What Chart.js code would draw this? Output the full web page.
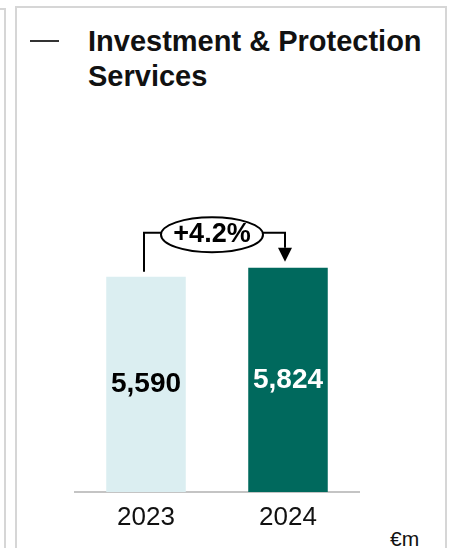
<!DOCTYPE html>
<html>
<head>
<meta charset="utf-8">
<script src="https://cdn.jsdelivr.net/npm/chart.js@4.4.1/dist/chart.umd.min.js"></script>
<style>
  html, body { margin: 0; padding: 0; background: #fff; }
  body { width: 452px; height: 548px; position: relative; overflow: hidden;
         font-family: "Liberation Sans", Arial, sans-serif; }
  .panel { position: absolute; box-sizing: border-box; border: 2px solid #d6d6d6; background: #fff; }
  .panel.prev { left: -20px; top: 8px; width: 26px; height: 600px; }
  .panel.main { left: 15px; top: 6px; width: 432px; height: 600px; }
  .dash { position: absolute; left: 30px; top: 40px; width: 29px; height: 2px; background: #333; }
  .title { position: absolute; left: 88px; top: 24px; font-weight: bold; font-size: 29px;
           line-height: 35px; color: #111; }
  .unit { position: absolute; left: 390px; top: 528px; font-size: 21px; line-height: 22px; color: #111; }
  #chart { position: absolute; left: 0; top: 0; }
</style>
</head>
<body>
<div class="panel prev"></div>
<div class="panel main"></div>
<div class="dash"></div>
<div class="title">Investment &amp; Protection<br>Services</div>
<div class="unit">€m</div>
<canvas id="chart" width="452" height="548"></canvas>

<script>
const years       = ['2023', '2024'];
const revenue     = [5590, 5824];
const barColors   = ['#dbeef1', '#00695d'];
const labelColors = ['#000', '#fff'];

const FONT = '"Liberation Sans", Arial, sans-serif';

// value labels inside the bars + growth bubble with arrow
const barNotes = {
  id: 'barNotes',
  afterDatasetsDraw(chart) {
    const ctx  = chart.ctx;
    const bars = chart.getDatasetMeta(0).data;
    const base = chart.scales.y.getPixelForValue(0);

    ctx.save();
    ctx.textAlign = 'center';
    ctx.textBaseline = 'middle';
    ctx.font = `bold 28px ${FONT}`;
    bars.forEach((bar, i) => {
      ctx.fillStyle = labelColors[i];
      ctx.fillText(revenue[i].toLocaleString('en-US'), bar.x, (bar.y + base) / 2);
    });

    const [b0, b1] = bars;
    const lineY = b1.y - 35;
    const cx = (b0.x + b1.x) / 2 - 5;
    const cy = lineY + 2;
    const rx = 51, ry = 17.5;
    const ax = b1.x - 3;

    ctx.strokeStyle = '#000';
    ctx.fillStyle = '#000';
    ctx.lineWidth = 2;
    ctx.beginPath();
    ctx.moveTo(b0.x - 2, b0.y - 5);
    ctx.lineTo(b0.x - 2, lineY);
    ctx.lineTo(cx - rx, lineY);
    ctx.moveTo(cx + rx, lineY);
    ctx.lineTo(ax, lineY);
    ctx.lineTo(ax, b1.y - 20);
    ctx.stroke();

    ctx.beginPath();
    ctx.moveTo(ax - 7, b1.y - 20);
    ctx.lineTo(ax + 7, b1.y - 20);
    ctx.lineTo(ax, b1.y - 6);
    ctx.closePath();
    ctx.fill();

    ctx.beginPath();
    ctx.ellipse(cx, cy, rx, ry, 0, 0, Math.PI * 2);
    ctx.fillStyle = '#fff';
    ctx.fill();
    ctx.stroke();

    const growth = (revenue[1] / revenue[0] - 1) * 100;
    ctx.fillStyle = '#000';
    ctx.font = `bold 27px ${FONT}`;
    ctx.fillText(`+${growth.toFixed(1)}%`, cx, cy);
    ctx.restore();
  }
};

new Chart(document.getElementById('chart'), {
  type: 'bar',
  data: {
    labels: years,
    datasets: [{
      data: revenue,
      backgroundColor: barColors,
      borderWidth: 0,
      barPercentage: 0.56,
      categoryPercentage: 1
    }]
  },
  options: {
    responsive: false,
    animation: false,
    layout: { padding: { top: 184, left: 75, right: 93, bottom: 0 } },
    plugins: { legend: { display: false }, tooltip: { enabled: false }, title: { display: false } },
    scales: {
      y: { display: false, min: 0, max: 8000 },
      x: {
        grid: { display: false, drawTicks: false },
        border: { display: true, color: '#c4c4c4', width: 2 },
        ticks: { color: '#111', padding: 10, font: { family: FONT, size: 26 } },
        afterFit(scale) { scale.height = 56; }
      }
    }
  },
  plugins: [barNotes]
});
</script>
</body>
</html>
